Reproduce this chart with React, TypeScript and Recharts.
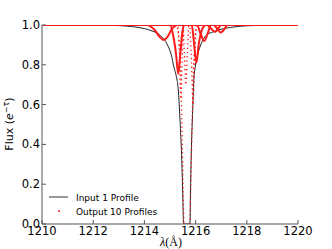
import { LineChart, Line, XAxis, YAxis } from "recharts"

// wavelength (Å) / flux pairs
const inputProfile: [number, number][] = [
  [1210, 1], [1212, 0.9995], [1213, 0.997], [1213.5, 0.992], [1214, 0.982],
  [1214.3, 0.97], [1214.6, 0.95], [1214.9, 0.9], [1215.05, 0.85], [1215.15, 0.79],
  [1215.25, 0.74], [1215.32, 0.68], [1215.4, 0.5], [1215.46, 0.32], [1215.5, 0.14],
  [1215.53, 0], [1215.78, 0], [1215.8, 0.15], [1215.83, 0.35], [1215.88, 0.55],
  [1215.93, 0.72], [1216.0, 0.8], [1216.1, 0.86], [1216.2, 0.9], [1216.43, 0.95],
  [1216.7, 0.966], [1216.95, 0.977], [1217.5, 0.99], [1218, 0.996], [1219, 0.9995],
  [1220, 1],
]

const outA: [number, number][] = [
  [1210, 1], [1214.1, 1], [1214.4, 0.975], [1214.6, 0.94], [1214.75, 0.925],
  [1214.9, 0.94], [1215.05, 0.975], [1215.3, 1], [1220, 1],
]
const outB: [number, number][] = [
  [1210, 1], [1215.0, 1], [1215.12, 0.95], [1215.24, 0.85], [1215.32, 0.755],
  [1215.4, 0.85], [1215.48, 0.96], [1215.55, 1], [1220, 1],
]
const outC: [number, number][] = [
  [1210, 1], [1215.25, 1], [1215.35, 0.93], [1215.43, 0.7], [1215.48, 0.4],
  [1215.52, 0.12], [1215.55, 0], [1215.77, 0], [1215.8, 0.15], [1215.85, 0.42],
  [1215.9, 0.7], [1215.97, 0.92], [1216.06, 1], [1220, 1],
]
const outD: [number, number][] = [
  [1210, 1], [1215.3, 1], [1215.36, 0.88], [1215.42, 0.63], [1215.48, 0.85],
  [1215.54, 1], [1220, 1],
]
const outE: [number, number][] = [
  [1210, 1], [1215.5, 1], [1215.56, 0.86], [1215.62, 0.7], [1215.68, 0.86],
  [1215.74, 1], [1220, 1],
]
const outF: [number, number][] = [
  [1210, 1], [1215.76, 1], [1215.83, 0.85], [1215.9, 0.6], [1215.97, 0.85],
  [1216.04, 1], [1220, 1],
]
const outG: [number, number][] = [
  [1210, 1], [1215.85, 1], [1215.93, 0.92], [1216.03, 0.81], [1216.12, 0.9],
  [1216.22, 0.965], [1216.4, 1], [1220, 1],
]
const outH: [number, number][] = [
  [1210, 1], [1216.05, 1], [1216.2, 0.955], [1216.34, 0.92], [1216.48, 0.96],
  [1216.6, 1], [1220, 1],
]
const outI: [number, number][] = [
  [1210, 1], [1216.45, 1], [1216.62, 0.98], [1216.76, 0.965], [1216.9, 0.985],
  [1217.0, 1], [1220, 1],
]
const outJ: [number, number][] = [
  [1210, 1], [1216.7, 1], [1216.88, 0.975], [1216.98, 0.962], [1217.1, 0.975],
  [1217.25, 1], [1220, 1],
]

const solidOutputs = [outA, outB, outG, outH, outI, outJ]
const dottedOutputs = [outC, outD, outE, outF]

const xTicks = [1210, 1212, 1214, 1216, 1218, 1220]
const yTicks = [0, 0.2, 0.4, 0.6, 0.8, 1.0]

const toPoints = (p: [number, number][]) => p.map(([x, y]) => ({ x, y }))

const frame = "#555"
const red = "#ff1a1a"
const tickFont = { fontSize: 11.5, fill: "#000", fontFamily: "DejaVu Sans" }

export default function App() {
  return (
    <div style={{ position: "absolute", left: 0, top: 0, width: 332, height: 249, background: "#fff" }}>
      <LineChart width={332} height={249} margin={{ top: 25, right: 34, bottom: 0, left: 0 }}>
        <XAxis
          xAxisId="b"
          type="number"
          dataKey="x"
          domain={[1210, 1220]}
          allowDataOverflow
          ticks={xTicks}
          height={25}
          tickSize={-4}
          tickMargin={7}
          tick={tickFont}
          axisLine={{ stroke: frame }}
          tickLine={{ stroke: frame }}
        />
        <XAxis
          xAxisId="t"
          orientation="top"
          type="number"
          dataKey="x"
          domain={[1210, 1220]}
          allowDataOverflow
          ticks={xTicks}
          height={0}
          tickSize={-4}
          tick={false}
          axisLine={{ stroke: frame }}
          tickLine={{ stroke: frame }}
        />
        <YAxis
          yAxisId="l"
          type="number"
          domain={[0, 1]}
          allowDataOverflow
          ticks={yTicks}
          width={42}
          tickSize={-4}
          tickMargin={6}
          tick={tickFont}
          tickFormatter={(v) => Number(v).toFixed(1)}
          axisLine={{ stroke: frame }}
          tickLine={{ stroke: frame }}
        />
        <YAxis
          yAxisId="r"
          orientation="right"
          type="number"
          domain={[0, 1]}
          allowDataOverflow
          ticks={yTicks}
          width={0}
          tickSize={-4}
          tick={false}
          axisLine={{ stroke: frame }}
          tickLine={{ stroke: frame }}
        />
        <Line
          xAxisId="b"
          yAxisId="l"
          data={toPoints(inputProfile)}
          dataKey="y"
          type="monotone"
          stroke="#222"
          strokeWidth={1}
          dot={false}
          isAnimationActive={false}
        />
        {dottedOutputs.map((p, i) => (
          <Line
            key={"d" + i}
            xAxisId="b"
            yAxisId="l"
            data={toPoints(p)}
            dataKey="y"
            type="monotone"
            stroke={red}
            strokeWidth={1.3}
            strokeDasharray="1.3 3"
            dot={false}
            isAnimationActive={false}
          />
        ))}
        {solidOutputs.map((p, i) => (
          <Line
            key={"s" + i}
            xAxisId="b"
            yAxisId="l"
            data={toPoints(p)}
            dataKey="y"
            type="monotone"
            stroke={red}
            strokeWidth={2}
            dot={false}
            isAnimationActive={false}
          />
        ))}
      </LineChart>
      <svg
        width={332}
        height={249}
        style={{ position: "absolute", left: 0, top: 0, pointerEvents: "none" }}
      >
        <text
          transform="translate(13,124) rotate(-90)"
          textAnchor="middle"
          fontFamily="DejaVu Sans"
          fontSize={11}
          fill="#000"
        >
          Flux (<tspan fontStyle="italic">e</tspan>
          <tspan dy={-4} fontSize={8}>−τ</tspan>
          <tspan dy={4}>)</tspan>
        </text>
        <text x={171} y={246} textAnchor="middle" fontFamily="Liberation Serif" fontSize={12} fill="#000">
          <tspan fontStyle="italic">λ</tspan>(Å)
        </text>
        <line x1={49} y1={197} x2={68} y2={197} stroke="#555" strokeWidth={1.2} />
        <text x={76} y={200.5} fontFamily="DejaVu Sans" fontSize={9} fill="#000">
          Input 1 Profile
        </text>
        <circle cx={59} cy={211} r={1} fill={red} />
        <text x={76} y={214.5} fontFamily="DejaVu Sans" fontSize={9} fill="#000">
          Output 10 Profiles
        </text>
      </svg>
    </div>
  )
}
